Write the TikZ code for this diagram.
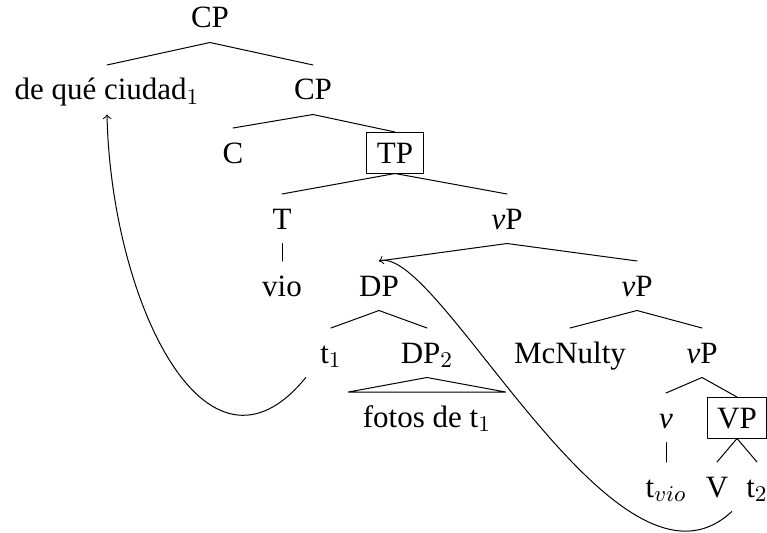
\documentclass[tikz,border=0pt]{standalone}
\usepackage[no-math]{fontspec}
\setmainfont{Liberation Serif}
\begin{document}
\begin{tikzpicture}[x=0.4pt, y=-0.4pt, font=\fontsize{12.4}{15}\selectfont, line join=round, line cap=round, >=to]
			\tikzset{every node/.style={anchor=base, text height=8.2pt, text depth=0pt, inner sep=5.6pt},
				boxed/.style={draw, inner sep=4pt}}
			\useasboundingbox (0,0) rectangle (767,533);
			\node (cp) at (210,28) {CP};
			\node (deque) at (107,100) {de qué ciudad$_1$};
			\node (cpb) at (313,100) {CP};
			\node (c) at (233,163) {C};
			\node[boxed] (tp) at (395,163) {TP};
			\node (t) at (282,229) {T};
			\node (vp) at (507,229) {\textit{v}P};
			\node (vio) at (282,296) {vio};
			\node (dp) at (379,296) {DP};
			\node (vpb) at (637,296) {\textit{v}P};
			\node (tone) at (331,363) {t$_1$};
			\node (dptwo) at (427,363) {DP$_2$};
			\node (mcn) at (570,363) {McNulty};
			\node (vpc) at (702,363) {\textit{v}P};
			\node (fotos) at (427,427) {fotos de t$_1$};
			\node (v) at (666,428) {\textit{v}};
			\node[boxed] (vpbox) at (737,428) {VP};
			\node (tvio) at (666,497) {t$_{vio}$};
			\node (vv) at (717,497) {V};
			\node (ttwo) at (757,497) {t$_2$};
			\foreach \a/\b in {cp/deque, cp/cpb, cpb/c, cpb/tp, tp/t, tp/vp, t/vio, vp/dp, vp/vpb,
				dp/tone, dp/dptwo, vpb/mcn, vpb/vpc, vpc/v, vpc/vpbox, v/tvio, vpbox/vv, vpbox/ttwo}
				\draw (\a.south) -- (\b.north);
			\draw (dptwo.south) -- (fotos.north east) -- (fotos.north west) -- cycle;
			% movement
			\draw[->] (tone.south west) .. controls +(-100,123) and +(4,185) .. (deque.south);
			\draw[->] (ttwo.south west) .. controls +(-115,108) and +(61,-15) .. (dp.north);
	\end{tikzpicture}
\end{document}
